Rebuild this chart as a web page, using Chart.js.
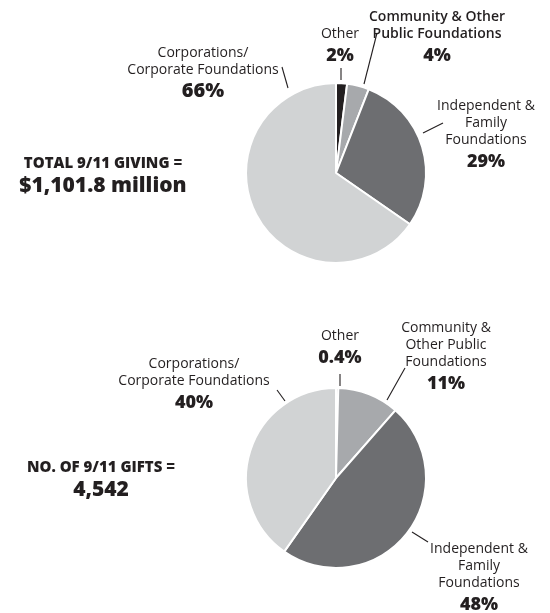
<!DOCTYPE html>
<html>
<head>
<meta charset="utf-8">
<script src="https://cdn.jsdelivr.net/npm/chart.js@4/dist/chart.umd.min.js"></script>
<style>
  body { margin: 0; background: #fff; }
  #wrap { position: relative; width: 550px; height: 613px; }
  canvas { position: absolute; left: 0; }
  #givingChart { top: 0; }
  #giftsChart { top: 300px; }
</style>
</head>
<body>
<div id="wrap">
  <canvas id="givingChart" width="550" height="300"></canvas>
  <canvas id="giftsChart" width="550" height="313"></canvas>
</div>
<script>
// DATA
const categories = ['Other', 'Community & Other Public Foundations', 'Independent & Family Foundations', 'Corporations/Corporate Foundations'];
const givingShares = [2, 4, 29, 66];
const giftShares = [0.4, 11, 48, 40];

const givingLabels = [
  ['Other'],
  ['Community & Other', 'Public Foundations'],
  ['Independent &', 'Family', 'Foundations'],
  ['Corporations/', 'Corporate Foundations'],
];
const giftLabels = [
  ['Other'],
  ['Community &', 'Other Public', 'Foundations'],
  ['Independent &', 'Family', 'Foundations'],
  ['Corporations/', 'Corporate Foundations'],
];
const givingTitle = ['TOTAL 9/11 GIVING =', '$1,101.8 million'];
const giftsTitle = ['NO. OF 9/11 GIFTS =', '4,542'];

const sliceColors = ['#231f20', '#a7a9ac', '#6d6e71', '#d1d3d4'];
const textColor = '#231f20';
const fontName = '"Open Sans"';

// label placement, relative to the pie centre
// x = text centre, y = first baseline, leader from (l1) to (l2)
const givingLayout = [
  { x: 4, y: -135, l1: [5, -105], l2: [5, -93] },
  { x: 101, y: -152, l1: [41, -140], l2: [28, -89], weight: 600 },
  { x: 150, y: -63, l1: [107, -50], l2: [87, -40] },
  { x: -133, y: -116, l1: [-54, -106], l2: [-48, -85], pctSize: 20 },
];
const giftLayout = [
  { x: 4, y: -138, l1: [4, -104], l2: [4, -92] },
  { x: 110, y: -146, l1: [69, -110], l2: [51, -78] },
  { x: 143, y: 75, l1: [76, 54], l2: [92, 64] },
  { x: -142, y: -110, l1: [-59, -88], l2: [-51, -77] },
];

const pieLabels = {
  id: 'pieLabels',
  afterDraw(chart, args, opts) {
    const ctx = chart.ctx;
    const arc = chart.getDatasetMeta(0).data[0];
    const cx = arc.x, cy = arc.y;
    const values = chart.data.datasets[0].data;
    ctx.save();
    ctx.fillStyle = textColor;
    ctx.strokeStyle = textColor;
    ctx.lineWidth = 1.1;
    ctx.textAlign = 'center';
    ctx.textBaseline = 'alphabetic';
    opts.layout.forEach((pos, i) => {
      // leader line
      ctx.beginPath();
      ctx.moveTo(cx + pos.l1[0], cy + pos.l1[1]);
      ctx.lineTo(cx + pos.l2[0], cy + pos.l2[1]);
      ctx.stroke();
      // name lines
      ctx.font = (pos.weight || 400) + ' 14px ' + fontName;
      let y = cy + pos.y;
      opts.lines[i].forEach((line) => {
        ctx.fillText(line, cx + pos.x, y);
        y += 17;
      });
      // percentage
      ctx.font = '800 ' + (pos.pctSize || 18) + 'px ' + fontName;
      ctx.fillText(values[i] + '%', cx + pos.x, y - 17 + 23);
    });
    // side title
    const t = opts.title;
    ctx.font = '800 15px ' + fontName;
    ctx.fillText(t.text[0], t.x, t.y);
    ctx.font = '800 21px ' + fontName;
    ctx.fillText(t.text[1], t.x, t.y + 24);
    ctx.restore();
  }
};

function makePie(id, shares, lines, layout, padding, title) {
  return new Chart(document.getElementById(id), {
    type: 'pie',
    data: {
      labels: categories,
      datasets: [{
        data: shares,
        backgroundColor: sliceColors,
        borderColor: '#ffffff',
        borderWidth: 2,
      }]
    },
    options: {
      responsive: false,
      animation: false,
      radius: 90,
      layout: { padding: padding },
      plugins: {
        legend: { display: false },
        tooltip: { enabled: false },
        pieLabels: { layout: layout, lines: lines, title: title },
      }
    },
    plugins: [pieLabels]
  });
}

const givingChart = makePie('givingChart', givingShares, givingLabels, givingLayout,
  { left: 166, right: 44, top: 73, bottom: 27 },
  { text: givingTitle, x: 103, y: 168 });

const giftsChart = makePie('giftsChart', giftShares, giftLabels, giftLayout,
  { left: 166, right: 44, top: 70, bottom: 27 },
  { text: giftsTitle, x: 101, y: 172 });
</script>
</body>
</html>
